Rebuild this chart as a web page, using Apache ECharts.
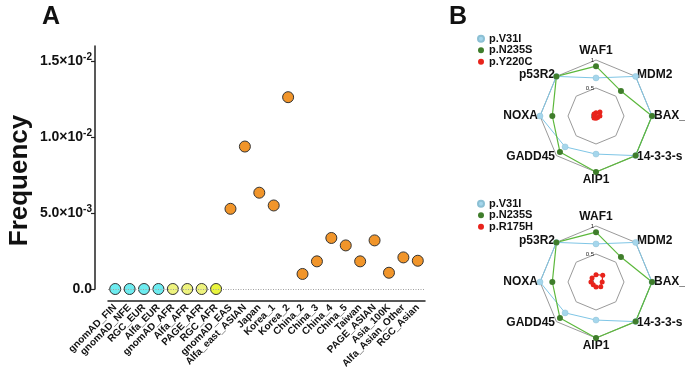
<!DOCTYPE html>
<html>
<head>
<meta charset="utf-8">
<script src="https://cdn.jsdelivr.net/npm/echarts@6/dist/echarts.min.js"></script>
<style>
html,body{margin:0;padding:0;background:#fff;}
#chart{width:685px;height:373px;}
</style>
</head>
<body>
<div id="chart"></div>
<script>
// ---------- Panel A data ----------
const categories = ['gnomAD_FIN','gnomAD_NFE','RGC_EUR','Alfa_EUR','gnomAD_AFR','Alfa_AFR','PAGE_AFR','RGC_AFR',
  'gnomAD_EAS','Alfa_east_ASIAN','Japan','Korea_1','Korea_2','China_2','China_3','China_4','China_5','Taiwan',
  'PAGE_ASIAN','Asia_100K','Alfa_Asian_Other','RGC_Asian'];
const eurValues   = [0, 0, 0, 0, null, null, null, null, null, null, null, null, null, null, null, null, null, null, null, null, null, null];
const afrValues   = [null, null, null, null, 0, 0, 0, 0, null, null, null, null, null, null, null, null, null, null, null, null, null, null];
const asianValues = [null, null, null, null, null, null, null, null,
  0.00528, 0.00938, 0.00634, 0.00550, 0.01263, 0.00099, 0.00182, 0.00336, 0.00287, 0.00182, 0.00320, 0.00107, 0.00208, 0.00186];
const yTickValues = [0, 0.005, 0.01, 0.015];
const yTickBase   = ['0.0', '5.0×10', '1.0×10', '1.5×10'];
const yTickExp    = ['', '-3', '-2', '-2'];

// ---------- Panel B data ----------
const radarAxes = ['WAF1', 'p53R2', 'NOXA', 'GADD45', 'AIP1', '14-3-3-s', 'BAX_', 'MDM2'];
const v31i  = [0.68, 1.0, 1.0, 0.78, 0.68, 1.0, 1.0, 1.0];
const n235s = [0.89, 1.0, 0.78, 0.91, 1.0, 1.0, 1.0, 0.63];
const y220c = [0.06, 0.05, 0.03, 0.05, 0.04, 0.04, 0.07, 0.10];
const r175h = [0.13, 0.10, 0.09, 0.07, 0.09, 0.12, 0.11, 0.17];

const FONT = 'Arial, "Liberation Sans", sans-serif';
const chart = echarts.init(document.getElementById('chart'), null, {renderer: 'canvas'});

const afrColors = ['#eef37e', '#eef37e', '#eef37e', '#e9f53c'];

function radarIndicators(showLabels) {
  return radarAxes.map((n, i) => {
    const o = {name: n, max: 1, min: 0};
    if (i === 0 && showLabels) o.axisLabel = {show: true};
    return o;
  });
}
function radarCfg(center) {
  return {
    center: center, radius: 56, startAngle: 90, shape: 'polygon', splitNumber: 2,
    indicator: radarIndicators(true),
    axisName: {color: '#111', fontWeight: 'bold', fontSize: 12, fontFamily: FONT},
    nameGap: 2,
    splitLine: {lineStyle: {color: '#9a9a9a', width: 1}},
    splitArea: {show: false},
    axisLine: {show: false},
    axisTick: {show: false},
    axisLabel: {show: false, fontSize: 6, color: '#222', margin: 2, fontFamily: FONT}
  };
}
const blueStyle = {lineStyle: {color: '#7fc6e6', width: 1}, itemStyle: {color: '#a5d6ec', borderColor: '#8cc0d4', borderWidth: 0.5}, symbolSize: 6};
const greenStyle = {lineStyle: {color: '#5cb83c', width: 1.2}, itemStyle: {color: '#3f7d2b'}, symbolSize: 6};
const redStyle = {lineStyle: {color: '#e8231b', width: 1.2}, itemStyle: {color: '#e8231b'}, symbolSize: 5};

function radarSeries(idx, third, thirdName) {
  return {
    type: 'radar', radarIndex: idx, symbol: 'circle',
    data: [
      Object.assign({name: 'p.V31I', value: v31i}, blueStyle),
      Object.assign({name: 'p.N235S', value: n235s}, greenStyle),
      Object.assign({name: thirdName, value: third}, redStyle)
    ]
  };
}

const legendBase = {
  orient: 'vertical', icon: 'circle', itemWidth: 6, itemHeight: 6, itemGap: 0,
  textStyle: {fontSize: 11, fontWeight: 'bold', color: '#111', fontFamily: FONT, lineHeight: 11.5}
};

const option = {
  animation: false,
  backgroundColor: '#fff',
  title: [
    {text: 'A', left: 37, top: 0, textStyle: {fontSize: 25, fontWeight: 'bold', color: '#111', fontFamily: FONT}},
    {text: 'B', left: 444, top: 0, textStyle: {fontSize: 25, fontWeight: 'bold', color: '#111', fontFamily: FONT}}
  ],
  legend: [
    Object.assign({left: 472, top: 28, data: ['p.V31I', 'p.N235S', 'p.Y220C']}, legendBase),
    Object.assign({left: 472, top: 193, data: ['p.V31I', 'p.N235S', 'p.R175H']}, legendBase)
  ],
  grid: {left: 108, right: 260, top: 46, bottom: 84, containLabel: false},
  xAxis: {
    type: 'category', data: categories, offset: 12,
    axisLine: {onZero: false, lineStyle: {color: '#222', width: 1.5}},
    axisTick: {alignWithLabel: true, length: 5, lineStyle: {color: '#222', width: 1.2}},
    axisLabel: {rotate: 45, fontSize: 10, fontWeight: 'bold', color: '#111', fontFamily: FONT, margin: 5, interval: 0}
  },
  yAxis: {
    type: 'value', min: 0, max: 0.016, offset: 13,
    name: 'Frequency', nameLocation: 'middle', nameGap: 62, nameRotate: 90,
    nameTextStyle: {fontSize: 26, fontWeight: 'bold', color: '#111', fontFamily: FONT, padding: [0, 26, 0, 0]},
    axisLine: {show: true, lineStyle: {color: '#222', width: 1.5}},
    axisTick: {show: true, length: 4, customValues: yTickValues, lineStyle: {color: '#222', width: 1.2}},
    splitLine: {show: false},
    axisLabel: {
      customValues: yTickValues, margin: 3,
      formatter: function (v) {
        let i = yTickValues.findIndex(t => Math.abs(t - v) < 1e-9);
        if (i < 0) return '';
        return '{b|' + yTickBase[i] + '}' + (yTickExp[i] ? '{s|' + yTickExp[i] + '}' : '');
      },
      rich: {
        b: {fontSize: 14, fontWeight: 'bold', color: '#111', fontFamily: FONT},
        s: {fontSize: 10, fontWeight: 'bold', color: '#111', fontFamily: FONT, padding: [0, 0, 7, 0]}
      }
    }
  },
  radar: [radarCfg([596, 116]), radarCfg([596, 282])],
  series: [
    {
      type: 'scatter', name: 'EUR', data: eurValues, symbolSize: 11, clip: false,
      itemStyle: {color: '#6decf0', borderColor: '#333', borderWidth: 1, opacity: 1},
      markLine: {
        silent: true, symbol: 'none', label: {show: false},
        lineStyle: {type: [1, 1.5], color: '#a0a0a0', width: 1},
        data: [{yAxis: 0}]
      },
      z: 3
    },
    {
      type: 'scatter', name: 'AFR', data: afrValues, symbolSize: 11, clip: false,
      itemStyle: {color: function (p) { return afrColors[p.dataIndex - 4] || '#eef37e'; }, borderColor: '#333', borderWidth: 1, opacity: 1},
      z: 3
    },
    {
      type: 'scatter', name: 'ASIAN', data: asianValues, symbolSize: 11, clip: false,
      itemStyle: {color: '#f1952a', borderColor: '#333', borderWidth: 1, opacity: 1},
      z: 3
    },
    radarSeries(0, y220c, 'p.Y220C'),
    radarSeries(1, r175h, 'p.R175H')
  ]
};
chart.setOption(option);
</script>
</body>
</html>
